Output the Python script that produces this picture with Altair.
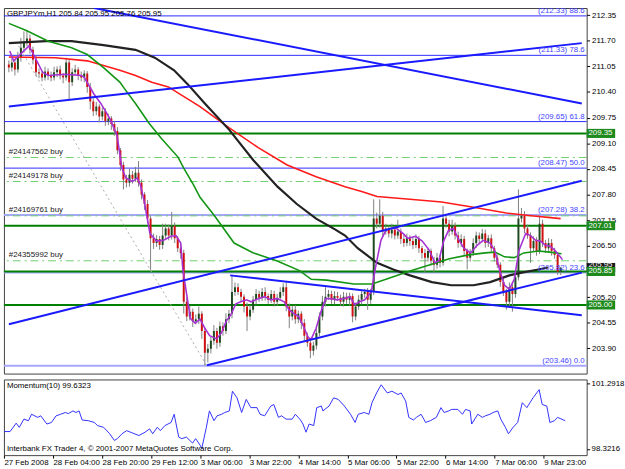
import altair as alt
import pandas as pd

FONT = "Liberation Sans"

# ---------------- price data (hourly bars, bar index 0..183) ----------------
closes = [
    211.02, 211.15, 210.97, 211.27, 211.52, 211.64, 211.76, 211.47, 211.22, 210.90,
    210.87, 210.77, 210.92, 210.82, 210.77, 210.90, 210.97, 210.82, 210.77, 211.15,
    210.65, 210.90, 210.97, 210.82, 210.77, 210.87, 210.53, 210.16, 209.91, 210.03,
    209.78, 209.91, 209.66, 209.73, 209.59, 209.41, 208.92, 208.55, 208.18, 208.10,
    208.30, 208.20, 208.35, 208.10, 207.80, 207.56, 207.19, 206.69, 206.57, 206.67,
    206.52, 206.76, 206.94, 206.76, 207.01, 206.69, 206.44, 206.32, 205.08, 204.71,
    204.83, 204.59, 204.64, 204.78, 204.34, 203.79, 203.89, 204.09, 204.34, 204.04,
    204.46, 204.34, 204.64, 204.78, 205.33, 205.45, 205.33, 205.21, 204.96, 204.71,
    204.88, 205.13, 205.28, 205.18, 205.33, 205.23, 205.13, 205.28, 205.08, 205.18,
    205.33, 205.45, 204.96, 204.71, 204.88, 204.64, 204.78, 204.54, 204.22, 204.04,
    203.84, 203.97, 204.29, 204.71, 205.08, 205.21, 205.28, 205.13, 205.23, 205.18,
    205.08, 205.21, 205.13, 205.23, 204.71, 204.96, 205.13, 205.28, 205.33, 205.13,
    205.33, 207.19, 207.06, 207.26, 206.86, 206.94, 206.81, 206.91, 206.76, 206.86,
    206.67, 206.57, 206.69, 206.62, 206.52, 206.67, 206.44, 206.32, 206.20, 206.37,
    206.12, 206.02, 206.20, 206.07, 207.19, 207.06, 206.86, 207.01, 206.76, 206.57,
    206.67, 206.37, 206.20, 206.32, 206.57, 206.76, 206.67, 206.81, 206.57, 206.69,
    206.44, 206.20, 206.02, 205.58, 205.33, 205.08, 205.45, 205.28, 205.70, 207.19,
    207.26, 206.94, 206.76, 206.44, 206.62, 206.37, 207.06, 206.57, 206.44, 206.57,
    206.37, 206.27, 205.84, 205.95,
]
first_open = 211.10

wick_up = [
    0.10, 0.12, 0.08, 0.15, 0.25, 0.30, 0.20, 0.10, 0.08, 0.12,
    0.10, 0.06, 0.12, 0.08, 0.10, 0.14, 0.08, 0.10, 0.06, 0.12,
    0.08, 0.10, 0.12, 0.06, 0.10, 0.08, 0.06, 0.10, 0.08, 0.12,
    0.06, 0.10, 0.08, 0.12, 0.06, 0.08, 0.10, 0.06, 0.08, 0.12,
    0.15, 0.10, 0.15, 0.30, 0.08, 0.06, 0.10, 0.08, 0.12, 0.10,
    0.08, 0.30, 0.12, 0.10, 0.35, 0.08, 0.06, 0.10, 0.08, 0.12,
    0.15, 0.08, 0.12, 0.18, 0.06, 0.08, 0.12, 0.10, 0.15, 0.08,
    0.12, 0.10, 0.15, 0.10, 0.42, 0.12, 0.10, 0.08, 0.06, 0.10,
    0.12, 0.10, 0.12, 0.08, 0.10, 0.12, 0.06, 0.10, 0.08, 0.10,
    0.12, 0.10, 0.15, 0.08, 0.10, 0.12, 0.08, 0.06, 0.10, 0.08,
    0.06, 0.10, 0.12, 0.10, 0.15, 0.24, 0.10, 0.08, 0.12, 0.10,
    0.08, 0.12, 0.10, 0.08, 0.06, 0.10, 0.12, 0.10, 0.08, 0.10,
    0.08, 0.49, 0.15, 0.42, 0.10, 0.12, 0.08, 0.15, 0.10, 0.30,
    0.08, 0.10, 0.12, 0.08, 0.10, 0.12, 0.08, 0.06, 0.10, 0.08,
    0.06, 0.10, 0.12, 0.08, 0.32, 0.12, 0.10, 0.15, 0.08, 0.10,
    0.12, 0.08, 0.06, 0.10, 0.12, 0.10, 0.08, 0.12, 0.10, 0.08,
    0.10, 0.06, 0.08, 0.06, 0.10, 0.08, 0.12, 0.10, 0.15, 0.74,
    0.20, 0.12, 0.10, 0.08, 0.12, 0.10, 0.18, 0.10, 0.08, 0.12,
    0.10, 0.08, 0.06, 0.00,
]
wick_dn = [
    0.12, 0.10, 0.15, 0.08, 0.10, 0.12, 0.08, 0.10, 0.12, 0.10,
    0.12, 0.10, 0.08, 0.12, 0.10, 0.08, 0.12, 0.10, 0.15, 0.08,
    0.45, 0.10, 0.08, 0.12, 0.10, 0.12, 0.15, 0.20, 0.12, 0.10,
    0.15, 0.10, 0.12, 0.10, 0.15, 0.12, 0.10, 0.15, 0.25, 0.12,
    0.10, 0.12, 0.08, 0.10, 0.12, 0.15, 0.12, 0.80, 0.15, 0.10,
    0.12, 0.10, 0.08, 0.12, 0.10, 0.12, 0.10, 0.15, 0.30, 0.12,
    0.10, 0.15, 0.08, 0.12, 0.20, 0.32, 0.25, 0.12, 0.10, 0.15,
    0.10, 0.12, 0.08, 0.10, 0.12, 0.10, 0.08, 0.12, 0.15, 0.37,
    0.10, 0.08, 0.12, 0.10, 0.08, 0.12, 0.10, 0.08, 0.12, 0.10,
    0.08, 0.10, 0.12, 0.30, 0.10, 0.12, 0.10, 0.15, 0.12, 0.10,
    0.19, 0.12, 0.10, 0.08, 0.10, 0.12, 0.08, 0.10, 0.12, 0.08,
    0.10, 0.12, 0.10, 0.15, 0.15, 0.10, 0.08, 0.12, 0.10, 0.25,
    0.10, 0.08, 0.12, 0.10, 0.12, 0.08, 0.10, 0.12, 0.10, 0.08,
    0.12, 0.10, 0.08, 0.12, 0.10, 0.08, 0.12, 0.15, 0.38, 0.10,
    0.12, 0.20, 0.10, 0.12, 0.08, 0.10, 0.12, 0.08, 0.10, 0.12,
    0.10, 0.12, 0.30, 0.10, 0.08, 0.12, 0.10, 0.08, 0.12, 0.10,
    0.12, 0.10, 0.08, 0.12, 0.10, 0.20, 0.12, 0.45, 0.10, 0.08,
    0.10, 0.12, 0.08, 0.37, 0.10, 0.12, 0.08, 0.10, 0.12, 0.10,
    0.12, 0.10, 0.08, 0.08,
]

# ---------------- moving averages (bar index, price) ----------------
purple_bar = [0.3, 1.6, 6.7, 11.2, 13.1, 18.6, 24.0, 25.0, 28.2, 30.5, 33.6, 35.9, 37.5, 38.8,
              41.0, 42.6, 43.6, 44.9, 45.8, 46.8, 49.0, 51.3, 53.8, 55.4, 57.0, 57.7, 60.2,
              61.8, 63.4, 65.0, 66.6, 68.9, 70.5, 72.1, 73.7, 75.3, 76.9, 78.8, 80.4, 82.7,
              84.9, 86.8, 89.1, 91.3, 92.9, 94.5, 96.1, 97.7, 99.3, 100.3, 101.9, 103.5,
              105.1, 106.7, 108.9, 110.9, 113.1, 114.7, 116.3, 118.0, 120.2, 121.7, 123.4,
              125.0, 126.6, 128.5, 130.8, 132.3, 134.9, 137.1, 139.4, 141.3, 142.6, 144.2,
              145.8, 147.4, 149.0, 150.9, 153.1, 155.4, 157.3, 159.6, 161.2, 162.8, 164.4,
              166.0, 167.6, 169.2, 171.4, 173.0, 174.7, 176.3, 177.8, 179.5, 181.0, 182.6, 183.6]
purple_val = [211.44, 211.19, 211.57, 210.90, 210.82, 210.85, 210.82, 210.77, 210.35, 210.11,
              209.71, 209.29, 208.47, 208.22, 208.13, 208.22, 208.05, 207.63, 207.24, 206.81,
              206.62, 206.64, 206.74, 206.76, 206.57, 205.90, 204.66, 204.54, 204.64, 204.41,
              204.22, 204.14, 204.29, 204.59, 204.76, 205.03, 205.08, 205.13, 205.08, 205.16,
              205.21, 205.13, 205.16, 205.08, 204.88, 204.78, 204.71, 204.46, 204.17, 204.14,
              204.41, 204.83, 205.16, 205.16, 205.13, 205.16, 205.21, 205.01, 205.08, 205.13,
              205.33, 205.99, 206.64, 206.89, 206.94, 206.94, 206.81, 206.69, 206.74, 206.62,
              206.39, 206.07, 206.12, 206.62, 206.89, 206.94, 206.69, 206.44, 206.32, 206.52,
              206.64, 206.57, 206.37, 205.87, 205.50, 205.40, 205.65, 206.39, 206.81, 206.76,
              206.64, 206.62, 206.52, 206.49, 206.39, 206.25, 206.15]

green_bar = [0, 5.8, 13.1, 20.8, 26.0, 31.4, 36.8, 38.4, 42.0, 46.5, 50.6, 56.1, 58.0, 61.2,
             63.4, 68.2, 74.7, 81.1, 88.8, 96.4, 100.3, 105.4, 114.4, 120.5, 127.0, 133.3,
             139.7, 146.1, 152.5, 158.0, 161.2, 164.4, 167.6, 170.8, 175.6, 179.4, 183.3]
green_val = [212.14, 211.96, 211.69, 211.52, 211.35, 211.02, 210.65, 210.48, 210.11, 209.61,
             209.22, 208.75, 208.47, 208.05, 207.73, 207.26, 206.57, 206.32, 206.12, 205.87,
             205.65, 205.63, 205.53, 205.53, 205.70, 205.87, 206.02, 206.17, 206.27, 206.32,
             206.34, 206.22, 206.20, 206.32, 206.37, 206.34, 206.30]

black_bar = [0, 12.2, 20.8, 31.4, 42.0, 48.4, 54.8, 59.3, 65.0, 73.1, 81.1, 89.1, 95.5, 101.9,
             108.3, 111.5, 115.7, 122.1, 127.5, 133.0, 140.3, 146.7, 154.1, 159.6, 166.0,
             170.1, 175.6, 178.8]
black_val = [211.64, 211.69, 211.69, 211.59, 211.47, 211.27, 210.95, 210.60, 210.11, 209.44,
             208.67, 208.00, 207.56, 207.19, 206.91, 206.76, 206.44, 206.07, 205.90, 205.75,
             205.58, 205.50, 205.50, 205.58, 205.75, 205.82, 205.90, 205.95]

red_bar = [0, 15.4, 26.0, 31.4, 36.8, 42.0, 47.4, 52.9, 63.4, 73.1, 82.7, 92.3, 101.9, 111.5,
           117.0, 122.1, 133.0, 143.5, 154.1, 165.0, 173.3, 183.0]
red_val = [211.29, 211.27, 211.19, 211.07, 210.95, 210.82, 210.65, 210.53, 210.03, 209.49,
           208.99, 208.55, 208.25, 208.00, 207.88, 207.75, 207.68, 207.61, 207.48, 207.33,
           207.26, 207.19]

# ---------------- momentum(10) ----------------
mom_bar = [0, 2, 4, 5, 6.5, 8, 9, 11, 12, 14, 15.5, 17, 18.5, 20, 21, 22.5, 23.5, 24.5, 25.5,
           27.5, 29.5, 30.5, 32.5, 34.5, 36, 37, 38.5, 40, 42, 44, 46, 47.5, 48.5, 50, 51,
           52.5, 54.5, 55.5, 57, 58, 59.5, 61.5, 62.5, 64, 64.5, 66, 67, 68.5, 69.5, 71, 72,
           73.5, 74.5, 76, 77.5, 79, 80.5, 82.5, 83.5, 85, 87, 88, 89.5, 90.5, 92, 94, 95,
           96.5, 97.5, 98.5, 99.5, 101, 102, 103.5, 104, 106, 107.5, 109, 111, 113, 114.5,
           115.5, 117.5, 119, 120, 121.5, 123, 125, 126.5, 128.5, 129.5, 131, 132, 133.5,
           134.5, 136, 137.5, 139, 141, 142.5, 143.5, 145, 146, 148, 149.5, 150.5, 152,
           152.5, 154.5, 156, 157, 158.5, 159.5, 161, 162, 163.5, 164.5, 166, 167.5, 169,
           170.5, 172.5, 174.5, 175.5, 177, 178, 179.5, 180.5, 183]
mom_val = [99.12, 99.12, 99.50, 99.31, 99.68, 99.61, 99.90, 99.76, 99.83, 99.46, 99.53, 99.83,
           99.90, 99.98, 99.93, 100.05, 99.98, 100.05, 99.64, 99.61, 99.53, 99.39, 99.31,
           99.02, 98.72, 98.80, 99.02, 99.16, 99.05, 98.94, 99.09, 99.24, 99.02, 99.31, 99.16,
           99.39, 99.53, 99.90, 98.87, 98.80, 98.87, 98.60, 98.80, 98.50, 98.35, 99.31,
           100.05, 99.61, 99.83, 99.90, 99.98, 100.05, 100.94, 100.64, 99.98, 100.57, 100.20,
           100.20, 99.90, 99.83, 100.27, 100.34, 99.76, 99.83, 99.68, 99.68, 99.90, 99.68,
           99.46, 99.09, 99.46, 99.39, 100.20, 100.27, 100.05, 100.27, 100.64, 100.57, 100.27,
           99.90, 99.53, 99.90, 99.98, 99.90, 100.42, 100.86, 101.23, 100.86, 100.94, 100.79,
           100.86, 100.49, 99.76, 99.64, 99.76, 99.90, 99.53, 99.61, 99.76, 100.20, 99.98,
           100.05, 100.12, 100.12, 99.90, 100.12, 100.05, 99.46, 99.90, 99.76, 99.83, 99.90,
           99.98, 100.05, 99.68, 99.31, 99.02, 99.31, 99.53, 100.42, 100.20, 100.64, 101.01,
           100.34, 100.27, 99.53, 99.61, 99.76, 99.61]

# ---------------- objects ----------------
fib_prices = [212.33, 211.33, 209.65, 208.47, 207.28, 205.82, 203.46]
fib_ratios = ["88.6", "78.6", "61.8", "50.0", "38.2", "23.6", "0.0"]
fib_light = [False, False, False, False, True, True, True]

green_levels = [209.35, 207.01, 205.85, 205.00]
current_price = 205.95

order_prices = [208.74, 208.13, 207.26, 206.12]
order_names = ["#24147562 buy", "#24149178 buy", "#24169761 buy", "#24355992 buy"]

trend_name = ["A", "A", "B", "B", "C", "C", "D", "D", "E", "E"]
trend_bar = [28.2, 190, 0, 190, 0, 190, 65.7, 190, 73.4, 190]
trend_val = [212.53, 210.11, 210.03, 211.64, 204.51, 208.15, 203.47, 205.82, 205.75, 204.74]

fibline_bar = [3.2, 65.7]
fibline_val = [211.57, 203.45]

# 205.85 is drawn by its own green price box
price_ticks = [203.25, 203.90, 204.55, 205.20, 206.50, 207.15, 207.80, 208.45,
               209.10, 209.75, 210.40, 211.05, 211.70, 212.35]
mom_ticks = [101.2918, 98.3216]
date_ticks = [0, 16, 32, 48, 64, 80, 96, 112, 128, 144, 160, 176]
date_labels = ["27 Feb 2008", "28 Feb 04:00", "28 Feb 20:00", "29 Feb 12:00", "3 Mar 06:00",
               "3 Mar 22:00", "4 Mar 14:00", "5 Mar 06:00", "5 Mar 22:00", "6 Mar 14:00",
               "7 Mar 06:00", "9 Mar 23:00"]

title_text = "GBPJPYm,H1  205.84 205.95 205.76 205.95"
mom_text = "Momentum(10) 99.6323"
copy_text = "Interbank FX Trader 4, \u00a9 2001-2007 MetaQuotes Software Corp."

# ---------------- build tables ----------------
opens = [first_open] + closes[:-1]
candles = pd.DataFrame({
    "i": list(range(len(closes))),
    "open": opens,
    "close": closes,
})
candles["high"] = [max(o, c) + w for o, c, w in zip(opens, closes, wick_up)]
candles["low"] = [min(o, c) - w for o, c, w in zip(opens, closes, wick_dn)]
candles["up"] = [c >= o for o, c in zip(opens, closes)]

red_df = pd.DataFrame({"i": red_bar, "p": red_val})
black_df = pd.DataFrame({"i": black_bar, "p": black_val})
green_df = pd.DataFrame({"i": green_bar, "p": green_val})
purple_df = pd.DataFrame({"i": purple_bar, "p": purple_val})
trend = pd.DataFrame({"i": trend_bar, "p": trend_val, "line": trend_name})
fibline = pd.DataFrame({"i": fibline_bar, "p": fibline_val})
fib = pd.DataFrame({"p": fib_prices,
                    "label": [f"({p:.2f})  {r}" for p, r in zip(fib_prices, fib_ratios)],
                    "light": fib_light})
glev = pd.DataFrame({"p": green_levels, "label": [f"{p:.2f}" for p in green_levels]})
glev["top"] = glev["p"] + 0.115
glev["bot"] = glev["p"] - 0.115
cur = pd.DataFrame({"p": [current_price], "label": [f"{current_price:.2f}"]})
cur["top"] = cur["p"] + 0.115
cur["bot"] = cur["p"] - 0.115
orders = pd.DataFrame({"p": order_prices, "label": order_names})
mom = pd.DataFrame({"i": mom_bar, "v": mom_val})

# ---------------- encodings ----------------
xscale = alt.Scale(domain=[0, 190], nice=False, zero=False)
yscale = alt.Scale(domain=[203.26, 212.53], nice=False, zero=False)
yaxis = alt.Axis(orient="right", values=price_ticks, format=".2f", title=None, grid=False,
                 domain=False, tickSize=3, tickColor="#000000", labelPadding=2,
                 labelFontSize=8, labelColor="#000000", labelFont=FONT, zindex=0,
                 labelFlush=False, labelOverlap=False)


def X(field):
    return alt.X(f"{field}:Q", scale=xscale, axis=None)


def Y(field):
    return alt.Y(f"{field}:Q", scale=yscale, axis=yaxis)


def Y2(field):
    return alt.Y2(f"{field}:Q")


def ma_layer(df, color, width):
    return alt.Chart(df).mark_line(color=color, strokeWidth=width, clip=True).encode(
        x=X("i"), y=Y("p"))


fib_dark = alt.Chart(fib).transform_filter("!datum.light").mark_rule(
    color="#2a2aff", strokeWidth=1).encode(y=Y("p"))
fib_lite = alt.Chart(fib).transform_filter("datum.light").mark_rule(
    color="#a6a6ff", strokeWidth=2).encode(y=Y("p"))
order_rules = alt.Chart(orders).mark_rule(
    color="#6ccf6c", strokeWidth=1, strokeDash=[8, 4, 2, 4]).encode(y=Y("p"))
green_rules = alt.Chart(glev).mark_rule(color="#008000", strokeWidth=2).encode(y=Y("p"))
fib_diag = alt.Chart(fibline).mark_line(
    color="#a8a8a8", strokeWidth=1, strokeDash=[2, 3], clip=True).encode(x=X("i"), y=Y("p"))

wicks = alt.Chart(candles).mark_rule(color="#808080", strokeWidth=1, clip=True).encode(
    x=X("i"), y=Y("low"), y2=Y2("high"))
bodies_up = alt.Chart(candles).transform_filter("datum.up").mark_bar(
    size=2, color="#1f4a1f", clip=True).encode(x=X("i"), y=Y("open"), y2=Y2("close"))
bodies_dn = alt.Chart(candles).transform_filter("!datum.up").mark_bar(
    size=2, color="#d01010", clip=True).encode(x=X("i"), y=Y("open"), y2=Y2("close"))

red_line = ma_layer(red_df, "#ff1a1a", 1.6)
black_line = ma_layer(black_df, "#222222", 2.2)
green_line = ma_layer(green_df, "#139613", 1.6)
purple_line = ma_layer(purple_df, "#a632d4", 1.6)

trend_lines = alt.Chart(trend).mark_line(color="#1a1aff", strokeWidth=2, clip=True).encode(
    x=X("i"), y=Y("p"), detail="line:N")

fib_text = alt.Chart(fib).mark_text(align="right", baseline="bottom", dy=-1, font=FONT,
                                    fontSize=8, color="#4444ff").encode(
    x=alt.value(591), y=Y("p"), text="label:N")
order_text = alt.Chart(orders).mark_text(align="left", baseline="bottom", dy=-2, font=FONT,
                                         fontSize=8, color="#202020").encode(
    x=alt.value(5), y=Y("p"), text="label:N")
title = alt.Chart(pd.DataFrame({"t": [title_text]})).mark_text(
    align="left", baseline="middle", font=FONT, fontSize=8, color="#000000").encode(
    x=alt.value(3), y=alt.value(6), text="t:N")

cur_box = alt.Chart(cur).mark_rect(color="#1a1a1a").encode(
    x=alt.value(593), x2=alt.value(622), y=Y("top"), y2=Y2("bot"))
cur_txt = alt.Chart(cur).mark_text(font=FONT, fontSize=8, color="#ffffff", dy=-2).encode(
    x=alt.value(607), y=Y("p"), text="label:N")
g_box = alt.Chart(glev).mark_rect(color="#1e8a1e").encode(
    x=alt.value(593), x2=alt.value(622), y=Y("top"), y2=Y2("bot"))
g_txt = alt.Chart(glev).mark_text(font=FONT, fontSize=8, color="#ffffff").encode(
    x=alt.value(607), y=Y("p"), text="label:N")

main = alt.layer(
    fib_dark, fib_lite, order_rules, green_rules, fib_diag, wicks, bodies_up, bodies_dn,
    red_line, black_line, green_line, purple_line, trend_lines, fib_text, order_text, title,
    cur_box, cur_txt, g_box, g_txt,
).properties(width=593, height=372)

# ---------------- momentum panel ----------------
label_expr = "[" + ",".join(f"'{s}'" for s in date_labels) + "][round(datum.value / 16)]"
mx = alt.X("i:Q", scale=xscale,
           axis=alt.Axis(values=date_ticks, labelExpr=label_expr, title=None, grid=False,
                         domain=False, tickSize=3, tickColor="#000000", labelAlign="left",
                         labelPadding=1, labelFontSize=8, labelFont=FONT,
                         labelColor="#000000", labelFlush=False, labelOverlap=False))
mscale = alt.Scale(domain=[98.056, 101.469], nice=False, zero=False)
my = alt.Y("v:Q", scale=mscale,
           axis=alt.Axis(orient="right", values=mom_ticks, labels=False, title=None,
                         grid=False, domain=False, tickSize=3, tickColor="#000000"))
mom_line = alt.Chart(mom).mark_line(color="#3030ff", strokeWidth=1, clip=True).encode(
    x=mx, y=my)
mom_top = alt.Chart(pd.DataFrame({"t": [f"{mom_ticks[0]:.4f}"]})).mark_text(
    align="left", baseline="middle", font=FONT, fontSize=8, color="#000000").encode(
    x=alt.value(598), y=alt.value(5), text="t:N")
mom_bot = alt.Chart(pd.DataFrame({"t": [f"{mom_ticks[1]:.4f}"]})).mark_text(
    align="left", baseline="middle", font=FONT, fontSize=8, color="#000000").encode(
    x=alt.value(598), y=alt.value(71), text="t:N")
mom_label = alt.Chart(pd.DataFrame({"t": [mom_text]})).mark_text(
    align="left", baseline="middle", font=FONT, fontSize=8, color="#000000").encode(
    x=alt.value(3), y=alt.value(7), text="t:N")
copy_label = alt.Chart(pd.DataFrame({"t": [copy_text]})).mark_text(
    align="left", baseline="middle", font=FONT, fontSize=8, color="#000000").encode(
    x=alt.value(3), y=alt.value(71), text="t:N")

momentum = alt.layer(mom_line, mom_top, mom_bot, mom_label, copy_label).properties(
    width=593, height=77)

chart = alt.vconcat(main, momentum, spacing=4).resolve_scale(y="independent").properties(
    padding={"left": 2, "top": 2, "right": 0, "bottom": 0},
    background="#ffffff",
).configure_view(stroke="#404040", strokeWidth=1)

chart.save("out.html", embed_options={"renderer": "svg", "actions": False})
